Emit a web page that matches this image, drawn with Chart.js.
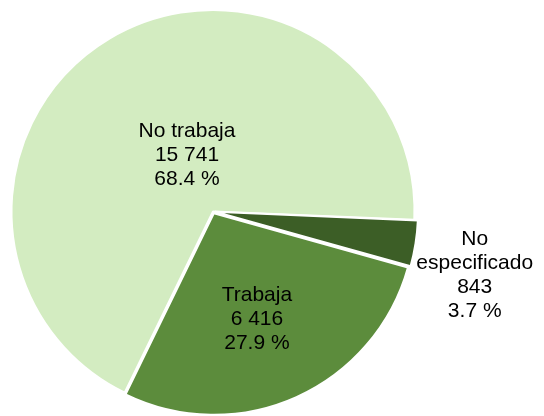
<!DOCTYPE html>
<html>
<head>
<meta charset="utf-8">
<script src="https://cdn.jsdelivr.net/npm/chart.js@4.4.0/dist/chart.umd.min.js"></script>
<style>
  html, body { margin: 0; padding: 0; background: #fff; overflow: hidden; }
  #wrap { width: 544px; height: 430px; }
</style>
</head>
<body>
<div id="wrap"><canvas id="grafica" width="544" height="430"></canvas></div>
<script>
// datos (orden de dibujo en sentido horario)
const categorias = ['No trabaja', 'No especificado', 'Trabaja'];
const valores = [15741, 843, 6416];
const colores = ['#d3ecc1', '#3c5e26', '#5c8c3c'];
const separacion = [0, 8, 8];

const total = valores.reduce((a, b) => a + b, 0);

function formatoNumero(n) {
    return String(n).replace(/\B(?=(\d{3})+(?!\d))/g, ' ');
}

// etiquetas dentro / fuera de cada rebanada
const etiquetasPlugin = {
    id: 'etiquetas',
    afterDatasetsDraw(chart, args, opts) {
        const ctx = chart.ctx;
        const meta = chart.getDatasetMeta(0);
        ctx.save();
        ctx.fillStyle = '#000';
        ctx.font = '21px "Liberation Sans", Arial, sans-serif';
        ctx.textAlign = 'center';
        ctx.textBaseline = 'middle';
        meta.data.forEach((arc, i) => {
            const p = arc.getProps(['x', 'y', 'startAngle', 'endAngle', 'outerRadius'], true);
            const mid = (p.startAngle + p.endAngle) / 2;
            const d = p.outerRadius * opts.distancia[i];
            const cx = p.x + Math.cos(mid) * d + opts.ajuste[i][0];
            const cy = p.y + Math.sin(mid) * d + opts.ajuste[i][1];
            const pct = (valores[i] / total * 100).toFixed(1) + ' %';
            const palabras = categorias[i] === 'No especificado' ? ['No', 'especificado'] : [categorias[i]];
            const lineas = palabras.concat([formatoNumero(valores[i]), pct]);
            const alto = 24;
            lineas.forEach((t, k) => {
                ctx.fillText(t, cx, cy + (k - (lineas.length - 1) / 2) * alto);
            });
        });
        ctx.restore();
    }
};

const ctx = document.getElementById('grafica').getContext('2d');
new Chart(ctx, {
    type: 'pie',
    data: {
        labels: categorias,
        datasets: [{
            data: valores,
            backgroundColor: colores,
            borderColor: '#ffffff',
            borderWidth: 2,
            offset: separacion
        }]
    },
    options: {
        responsive: false,
        animation: false,
        rotation: 206,
        layout: { padding: { left: 6, right: 124, top: 5, bottom: 12 } },
        plugins: {
            legend: { display: false },
            tooltip: { enabled: false },
            etiquetas: {
                distancia: [0.31, 1.33, 0.58],
                ajuste: [[6, -3], [-3, 22], [-4, 1]]
            }
        }
    },
    plugins: [etiquetasPlugin]
});
</script>
</body>
</html>
